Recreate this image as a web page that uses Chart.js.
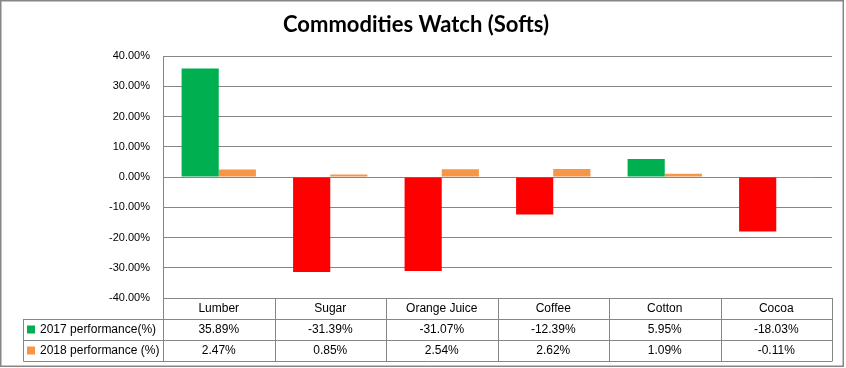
<!DOCTYPE html>
<html>
<head>
<meta charset="utf-8">
<script src="https://cdn.jsdelivr.net/npm/chart.js@4/dist/chart.umd.min.js"></script>
<style>
    html, body { margin: 0; padding: 0; background: #fff; }
</style>
</head>
<body>
<canvas id="chartCanvas" width="846" height="368"></canvas>
<script>
const categories = ['Lumber', 'Sugar', 'Orange Juice', 'Coffee', 'Cotton', 'Cocoa'];
const seriesNames = ['2017 performance(%)', '2018 performance (%)'];
const perf2017 = [35.89, -31.39, -31.07, -12.39, 5.95, -18.03];
const perf2018 = [2.47, 0.85, 2.54, 2.62, 1.09, -0.11];
const yTicks = [40, 30, 20, 10, 0, -10, -20, -30, -40];

const GREEN = '#00B050';
const RED = '#FF0000';
const ORANGE = '#F79646';
const LINE = '#868686';
const FONT = '"Liberation Sans", Arial, sans-serif';

// Excel style data table under the plot, lined up with the category scale
const dataTable = {
    id: 'dataTable',
    afterDraw(chart) {
        const ctx = chart.ctx;
        const area = chart.chartArea;
        const x = chart.scales.x;
        const top = area.bottom;
        const rows = [top, top + 21, top + 42, top + 63];
        const legendLeft = 23.5;
        const n = categories.length;
        const colW = (area.right - area.left) / n;

        ctx.save();
        ctx.strokeStyle = LINE;
        ctx.lineWidth = 1;
        ctx.beginPath();
        // horizontal lines
        for (let r = 1; r < rows.length; r++) {
            ctx.moveTo(legendLeft, Math.round(rows[r]) + 0.5);
            ctx.lineTo(area.right, Math.round(rows[r]) + 0.5);
        }
        // vertical lines
        for (let i = 0; i <= n; i++) {
            const px = Math.round(area.left + i * colW) + 0.5;
            ctx.moveTo(px, rows[0]);
            ctx.lineTo(px, rows[3] + 0.5);
        }
        ctx.moveTo(legendLeft, rows[1]);
        ctx.lineTo(legendLeft, rows[3] + 0.5);
        ctx.stroke();

        ctx.fillStyle = '#000';
        ctx.font = '12px ' + FONT;
        ctx.textAlign = 'center';
        ctx.textBaseline = 'middle';
        categories.forEach((c, i) => {
            const cx = x.getPixelForValue(i);
            ctx.fillText(c, cx, (rows[0] + rows[1]) / 2);
            ctx.fillText(perf2017[i].toFixed(2) + '%', cx, (rows[1] + rows[2]) / 2);
            ctx.fillText(perf2018[i].toFixed(2) + '%', cx, (rows[2] + rows[3]) / 2);
        });

        // legend keys
        ctx.textAlign = 'left';
        [GREEN, ORANGE].forEach((col, k) => {
            const cy = (rows[k + 1] + rows[k + 2]) / 2;
            ctx.fillStyle = col;
            ctx.fillRect(27, cy - 4, 8, 8);
            ctx.fillStyle = '#000';
            ctx.fillText(seriesNames[k], 40, cy);
        });

        // outer chart border
        ctx.strokeStyle = LINE;
        ctx.lineWidth = 1.5;
        ctx.strokeRect(0.75, 0.75, 842.5, 365.5);
        ctx.restore();
    }
};

new Chart(document.getElementById('chartCanvas').getContext('2d'), {
    type: 'bar',
    data: {
        labels: categories,
        datasets: [{
            label: seriesNames[0],
            data: perf2017,
            backgroundColor: perf2017.map(v => v < 0 ? RED : GREEN)
        }, {
            label: seriesNames[1],
            data: perf2018,
            backgroundColor: ORANGE
        }]
    },
    options: {
        responsive: false,
        animation: false,
        devicePixelRatio: 1,
        layout: {padding: {top: 0, right: 14, bottom: 70, left: 0}},
        categoryPercentage: 2 / 3,
        barPercentage: 1,
        plugins: {
            legend: {display: false},
            tooltip: {enabled: false},
            title: {
                display: true,
                text: 'Commodities Watch (Softs)',
                color: '#000',
                font: {family: 'Lato, "Liberation Sans", sans-serif', size: 22, weight: 'bold'},
                padding: {top: 12, bottom: 17.6}
            }
        },
        scales: {
            x: {
                display: false
            },
            y: {
                min: -40,
                max: 40,
                afterFit: (s) => { s.width = 163; },
                afterBuildTicks: (s) => { s.ticks = yTicks.map(v => ({value: v})); },
                border: {display: true, color: LINE, width: 1},
                grid: {color: LINE, lineWidth: 1, drawTicks: false},
                ticks: {
                    color: '#000',
                    padding: 13,
                    autoSkip: false,
                    font: {family: FONT, size: 11},
                    callback: (v) => v.toFixed(2) + '%'
                }
            }
        }
    },
    plugins: [dataTable]
});
</script>
</body>
</html>
